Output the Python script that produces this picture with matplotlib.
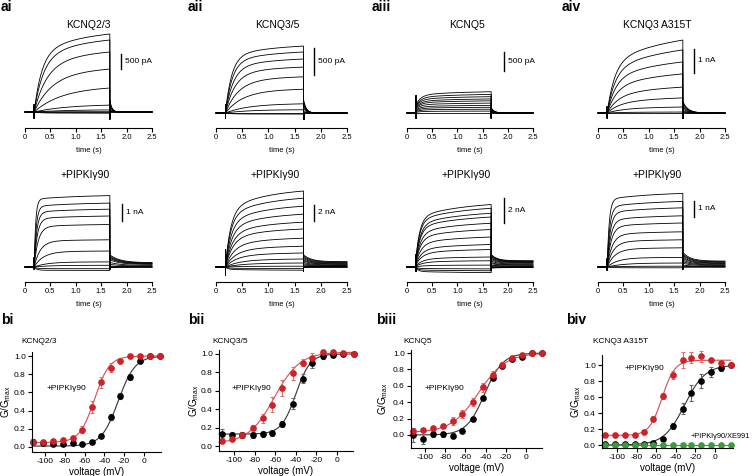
import numpy as np
import matplotlib
matplotlib.use('Agg')
import matplotlib.pyplot as plt
from matplotlib.lines import Line2D

plt.rcParams['font.family'] = ['Liberation Sans', 'DejaVu Sans']
plt.rcParams['axes.unicode_minus'] = False

# ---------------- DATA ----------------
# Current traces: end-of-step amplitude (nA) and activation time constant (s) per sweep
ai_ctrl_amp = [2.6, 2.4, 2.0, 1.43, 0.8, 0.23, 0.07, 0.01, -0.02, -0.04]
ai_ctrl_tau = [0.15, 0.18, 0.24, 0.33, 0.5, 0.6, 0.6, 0.3, 0.1, 0.1]
aii_ctrl_amp = [1.24, 1.13, 1.0, 0.85, 0.67, 0.44, 0.17, 0.06, 0.0, -0.02]
aii_ctrl_tau = [0.12, 0.13, 0.15, 0.18, 0.24, 0.32, 0.42, 0.4, 0.2, 0.1]
aiii_ctrl_amp = [0.56, 0.49, 0.43, 0.37, 0.32, 0.26, 0.20, 0.15, 0.10, 0.05, 0.0]
aiii_ctrl_tau = [0.1, 0.1, 0.1, 0.1, 0.1, 0.1, 0.1, 0.1, 0.1, 0.1, 0.1]
aiv_ctrl_amp = [3.04, 2.63, 2.13, 1.63, 1.08, 0.63, 0.25, 0.04, 0.0]
aiv_ctrl_tau = [0.15, 0.16, 0.17, 0.19, 0.22, 0.25, 0.3, 0.3, 0.3]

ai_pip_amp = [4.2, 3.76, 3.4, 3.0, 2.5, 1.6, 0.94, 0.3, 0.1, -0.1, -0.2]
ai_pip_tau = [0.03, 0.04, 0.05, 0.06, 0.08, 0.12, 0.18, 0.25, 0.3, 0.05, 0.05]
aii_pip_amp = [9.5, 8.6, 7.6, 6.6, 5.6, 4.75, 3.6, 2.6, 1.75, 1.0, 0.5, 0.1, -0.2, -0.4]
aii_pip_tau = [0.1, 0.1, 0.11, 0.12, 0.13, 0.14, 0.16, 0.18, 0.2, 0.25, 0.3, 0.3, 0.05, 0.05]
aiii_pip_amp = [5.0, 4.7, 4.3, 4.0, 3.5, 3.0, 2.4, 1.8, 1.4, 0.8, 0.5, 0.15, -0.15, -0.3, -0.45]
aiii_pip_tau = [0.08, 0.08, 0.09, 0.09, 0.1, 0.1, 0.11, 0.12, 0.13, 0.14, 0.15, 0.15, 0.05, 0.05, 0.05]
aiv_pip_amp = [4.6, 4.1, 3.7, 3.2, 2.75, 2.2, 1.7, 1.2, 0.6, 0.25, 0.05, -0.05]
aiv_pip_tau = [0.04, 0.05, 0.06, 0.07, 0.08, 0.1, 0.12, 0.15, 0.2, 0.3, 0.3, 0.1]

# kinetics per panel: [instant frac, slow frac, slow tau, tail frac, tail hold frac, tail tau]
ai_ctrl_kin = [0.0, 0.25, 1.0, 0.15, 0.0, 0.04]
aii_ctrl_kin = [0.0, 0.15, 1.0, 0.2, 0.0, 0.05]
aiii_ctrl_kin = [0.4, 0.15, 1.0, 0.25, 0.0, 0.06]
aiv_ctrl_kin = [0.0, 0.3, 1.5, 0.16, 0.0, 0.1]
ai_pip_kin = [0.0, 0.05, 1.0, 0.17, 0.06, 0.2]
aii_pip_kin = [0.0, 0.25, 0.8, 0.16, 0.07, 0.15]
aiii_pip_kin = [0.15, 0.2, 1.0, 0.2, 0.1, 0.12]
aiv_pip_kin = [0.0, 0.08, 1.0, 0.2, 0.08, 0.15]

step_times = [0.18, 1.67, 2.5]   # step on, step off, sweep end (s)

# G-V data
voltage = [-112, -102, -92, -82, -72, -63, -53, -43, -33, -24, -14, -4, 6, 16]

bi_ctrl = [0.06, 0.04, 0.03, 0.03, 0.04, 0.03, 0.05, 0.12, 0.33, 0.56, 0.77, 0.94, 1.0, 1.0]
bi_ctrl_err = [0.03, 0.02, 0.01, 0.01, 0.01, 0.01, 0.01, 0.02, 0.03, 0.03, 0.03, 0.02, 0.01, 0.0]
bi_pip = [0.05, 0.05, 0.07, 0.075, 0.10, 0.19, 0.44, 0.71, 0.87, 0.95, 1.0, 1.0, 1.0, 1.0]
bi_pip_err = [0.02, 0.02, 0.02, 0.02, 0.02, 0.04, 0.07, 0.06, 0.05, 0.03, 0.02, 0.01, 0.01, 0.0]

bii_ctrl = [0.135, 0.12, 0.12, 0.12, 0.13, 0.14, 0.24, 0.46, 0.73, 0.90, 0.98, 0.99, 1.0, 1.0]
bii_ctrl_err = [0.05, 0.03, 0.03, 0.03, 0.03, 0.03, 0.03, 0.06, 0.05, 0.05, 0.04, 0.02, 0.01, 0.0]
bii_pip = [0.05, 0.08, 0.12, 0.20, 0.30, 0.45, 0.63, 0.79, 0.905, 0.96, 1.02, 1.02, 1.01, 1.0]
bii_pip_err = [0.01, 0.01, 0.03, 0.03, 0.05, 0.08, 0.09, 0.07, 0.04, 0.05, 0.02, 0.02, 0.01, 0.0]

biii_ctrl = [0.0, -0.05, 0.01, 0.01, -0.01, 0.05, 0.19, 0.45, 0.69, 0.845, 0.93, 0.95, 1.0, 1.0]
biii_ctrl_err = [0.08, 0.06, 0.04, 0.03, 0.03, 0.03, 0.02, 0.02, 0.02, 0.02, 0.02, 0.02, 0.01, 0.0]
biii_pip = [0.05, 0.065, 0.09, 0.115, 0.17, 0.26, 0.40, 0.58, 0.735, 0.857, 0.94, 0.97, 1.0, 1.0]
biii_pip_err = [0.01, 0.01, 0.02, 0.02, 0.05, 0.05, 0.05, 0.05, 0.04, 0.03, 0.02, 0.01, 0.01, 0.0]

biv_ctrl = [0.01, 0.01, 0.01, 0.01, 0.01, 0.02, 0.07, 0.24, 0.455, 0.645, 0.80, 0.91, 0.96, 1.0]
biv_ctrl_err = [0.01, 0.01, 0.01, 0.01, 0.01, 0.01, 0.02, 0.04, 0.07, 0.10, 0.09, 0.06, 0.04, 0.0]
biv_pip = [0.12, 0.12, 0.12, 0.12, 0.165, 0.33, 0.61, 0.87, 1.06, 1.09, 1.11, 1.065, 1.02, 1.0]
biv_pip_err = [0.02, 0.02, 0.02, 0.02, 0.02, 0.03, 0.04, 0.05, 0.10, 0.07, 0.07, 0.02, 0.03, 0.0]
biv_xe = [0.005, 0.005, 0.005, 0.005, 0.005, 0.005, 0.005, 0.005, 0.005, 0.005, 0.005, 0.005, 0.005, 0.0]
biv_xe_err = [0.01, 0.01, 0.01, 0.01, 0.01, 0.01, 0.01, 0.01, 0.01, 0.01, 0.01, 0.01, 0.01, 0.0]

# Boltzmann fit parameters: [bottom, top, V1/2, slope k]
bi_ctrl_fit = [0.01, 1.0, -26, 8.5]
bi_pip_fit = [0.05, 1.0, -50, 7.5]
bii_ctrl_fit = [0.13, 1.0, -40, 7]
bii_pip_fit = [0.03, 1.02, -61, 12.5]
biii_ctrl_fit = [0.0, 1.0, -41, 9]
biii_pip_fit = [0.03, 1.0, -47, 13.5]
biv_ctrl_fit = [0.0, 1.0, -31, 10.5]
biv_pip_fit = [0.12, 1.06, -54, 6.5]
biv_xe_fit = [0.005, 0.005, -50, 10]

time_ticks = [0, 0.5, 1.0, 1.5, 2.0, 2.5]
time_ticklabels = ['0', '0.5', '1.0', '1.5', '2.0', '2.5']
v_ticks = [-100, -80, -60, -40, -20, 0]
g_ticks = [0.0, 0.2, 0.4, 0.6, 0.8, 1.0]

# ---------------- FIGURE ----------------
W, H = 752, 476
fig = plt.figure(figsize=(W / 100, H / 100), dpi=100)


def fx(x):
    return x / W


def fy(y):
    return 1 - y / H


def px_axes(l, t, r, b):
    return fig.add_axes([fx(l), fy(b), (r - l) / W, (b - t) / H])


def ftext(x, y, s, **kw):
    fig.text(fx(x), fy(y), s, **kw)


RED = '#cc2229'
RED_LINE = '#e0484d'
RED_ERR = '#e07070'
BLK_ERR = '#666666'
GREEN = '#3d9a3d'


def make_trace(A, tau, kin, spk):
    inst, slow, tau_slow, tail_f, tail_hold, tail_tau = kin
    t_on, t_off, t_end = step_times
    D = t_off - t_on
    t1 = np.linspace(0, t_on, 20)
    t2 = np.linspace(t_on, t_off, 500)
    t3 = np.linspace(t_off, t_end, 300)
    dt = t2 - t_on
    fast = 1 - inst - slow
    g = (inst + fast * (1 - np.exp(-dt / tau)) / (1 - np.exp(-D / tau))
         + slow * (1 - np.exp(-dt / tau_slow)) / (1 - np.exp(-D / tau_slow)))
    i2 = A * g
    i3 = A * (tail_hold + (tail_f - tail_hold) * np.exp(-(t3 - t_off) / tail_tau))
    up, dn, dn_off = spk
    t = np.concatenate([t1, [t_on, t_on], t2, [t_off], t3])
    i = np.concatenate([np.zeros_like(t1), [up, -dn], i2, [-dn_off], i3])
    return t, i


trace_panels = [
    dict(px0=25, px25=152, axis_y=128, base_y=112, top_y=30, ppn=30, amps=ai_ctrl_amp, taus=ai_ctrl_tau,
         kin=ai_ctrl_kin, spk=(7, 6, 7), sb=0.5, sb_lab='500 pA', sb_x=121, sb_c=61.5,
         title='KCNQ2/3', tx=88, ty=28, tl='ai', tlx=1, tly=11),
    dict(px0=216, px25=347, axis_y=128, base_y=113, top_y=30, ppn=54, amps=aii_ctrl_amp, taus=aii_ctrl_tau,
         kin=aii_ctrl_kin, spk=(8, 5, 6), sb=0.5, sb_lab='500 pA', sb_x=314, sb_c=61.5,
         title='KCNQ3/5', tx=277, ty=28, tl='aii', tlx=188, tly=11),
    dict(px0=407, px25=533, axis_y=128, base_y=113, top_y=30, ppn=38, amps=aiii_ctrl_amp, taus=aiii_ctrl_tau,
         kin=aiii_ctrl_kin, spk=(17, 5, 5), sb=0.5, sb_lab='500 pA', sb_x=504, sb_c=61.5,
         title='KCNQ5', tx=467, ty=28, tl='aiii', tlx=372, tly=11),
    dict(px0=598, px25=725, axis_y=128, base_y=113, top_y=30, ppn=24, amps=aiv_ctrl_amp, taus=aiv_ctrl_tau,
         kin=aiv_ctrl_kin, spk=(6, 5, 5), sb=1, sb_lab='1 nA', sb_x=694, sb_c=61,
         title='KCNQ3 A315T', tx=657, ty=28, tl='aiv', tlx=562, tly=11),
    dict(px0=25, px25=152, axis_y=282, base_y=267, top_y=185, ppn=17, amps=ai_pip_amp, taus=ai_pip_tau,
         kin=ai_pip_kin, spk=(9, 2, 2), sb=1, sb_lab='1 nA', sb_x=122, sb_c=212,
         title='+PIPKI\u03b390', tx=85, ty=178),
    dict(px0=216, px25=347, axis_y=282, base_y=267, top_y=185, ppn=8, amps=aii_pip_amp, taus=aii_pip_tau,
         kin=aii_pip_kin, spk=(17, 8, 4), sb=2, sb_lab='2 nA', sb_x=314, sb_c=213,
         title='+PIPKI\u03b390', tx=275, ty=178),
    dict(px0=407, px25=533, axis_y=282, base_y=267, top_y=185, ppn=12.5, amps=aiii_pip_amp, taus=aiii_pip_tau,
         kin=aiii_pip_kin, spk=(12, 4, 3), sb=2, sb_lab='2 nA', sb_x=504, sb_c=210.5,
         title='+PIPKI\u03b390', tx=466, ty=178),
    dict(px0=598, px25=725, axis_y=282, base_y=267, top_y=185, ppn=16, amps=aiv_pip_amp, taus=aiv_pip_tau,
         kin=aiv_pip_kin, spk=(8, 3, 2), sb=1, sb_lab='1 nA', sb_x=694, sb_c=209,
         title='+PIPKI\u03b390', tx=657, ty=178),
]

for p in trace_panels:
    ax = px_axes(p['px0'], p['top_y'], p['px25'], p['axis_y'])
    ppn = p['ppn']
    ax.set_xlim(0, 2.5)
    ax.set_ylim(-(p['axis_y'] - p['base_y']) / ppn, (p['base_y'] - p['top_y']) / ppn)
    ax.patch.set_alpha(0)
    for s in ['top', 'right', 'left']:
        ax.spines[s].set_visible(False)
    ax.spines['bottom'].set_linewidth(0.8)
    ax.set_yticks([])
    ax.set_xticks(time_ticks)
    ax.set_xticklabels(time_ticklabels)
    ax.tick_params(axis='x', direction='out', length=3, width=0.8, labelsize=5.5, pad=1.5)
    spk = tuple(v / ppn for v in p['spk'])
    for A, tau in zip(p['amps'], p['taus']):
        t, i = make_trace(A, tau, p['kin'], spk)
        ax.plot(t, i, color='black', lw=0.6, clip_on=False)
    # scale bar
    half = p['sb'] * ppn / 2
    fig.add_artist(Line2D([fx(p['sb_x']), fx(p['sb_x'])], [fy(p['sb_c'] - half), fy(p['sb_c'] + half)],
                          color='black', lw=1.0, transform=fig.transFigure))
    ftext(p['sb_x'] + 4, p['sb_c'], p['sb_lab'], fontsize=6, va='center', ha='left')
    ftext(p['tx'], p['ty'], p['title'], fontsize=7.5, ha='center', va='baseline')
    ftext((p['px0'] + p['px25']) / 2, p['axis_y'] + 24, 'time (s)', fontsize=5.5, ha='center', va='baseline')
    if 'tl' in p:
        ftext(p['tlx'], p['tly'], p['tl'], fontsize=10, fontweight='bold', ha='left', va='baseline')


def boltz(v, prm):
    b, t, vh, k = prm
    return b + (t - b) / (1 + np.exp((vh - v) / k))


gv_panels = [
    dict(rect=(32, 352, 161, 452), xlim=(-113.1, 17.2), ylim=(-0.055, 1.044),
         series=[(bi_ctrl, bi_ctrl_err, bi_ctrl_fit, 'black', BLK_ERR, '#333333'),
                 (bi_pip, bi_pip_err, bi_pip_fit, RED, RED_ERR, RED_LINE)],
         lab='bi', labx=1, title='KCNQ2/3', titlex=21,
         ann=[('+PIPKI\u03b390', 47, 390, 6)], ylx=13),
    dict(rect=(219, 350, 353, 451), xlim=(-114.6, 15.5), ylim=(-0.054, 1.043),
         series=[(bii_ctrl, bii_ctrl_err, bii_ctrl_fit, 'black', BLK_ERR, '#333333'),
                 (bii_pip, bii_pip_err, bii_pip_fit, RED, RED_ERR, RED_LINE)],
         lab='bii', labx=188, title='KCNQ3/5', titlex=212,
         ann=[('+PIPKI\u03b390', 232, 390, 6)], ylx=201),
    dict(rect=(411, 350, 542, 448), xlim=(-113.9, 15.8), ylim=(-0.159, 1.037),
         series=[(biii_ctrl, biii_ctrl_err, biii_ctrl_fit, 'black', BLK_ERR, '#333333'),
                 (biii_pip, biii_pip_err, biii_pip_fit, RED, RED_ERR, RED_LINE)],
         lab='biii', labx=376, title='KCNQ5', titlex=403,
         ann=[('+PIPKI\u03b390', 425, 390, 6)], ylx=390),
    dict(rect=(602, 355, 733, 448), xlim=(-115.3, 18.4), ylim=(-0.0375, 1.125),
         series=[(biv_ctrl, biv_ctrl_err, biv_ctrl_fit, 'black', BLK_ERR, '#333333'),
                 (biv_pip, biv_pip_err, biv_pip_fit, RED, RED_ERR, RED_LINE),
                 (biv_xe, biv_xe_err, biv_xe_fit, GREEN, '#70b870', GREEN)],
         lab='biv', labx=566, title='KCNQ3 A315T', titlex=593,
         ann=[('+PIPKI\u03b390', 625, 370, 6), ('+PIPKI\u03b390/XE991', 691, 438, 5.3)], ylx=583),
]

for p in gv_panels:
    l, t, r, b = p['rect']
    ax = px_axes(l, t, r, b)
    ax.set_xlim(*p['xlim'])
    ax.set_ylim(*p['ylim'])
    ax.patch.set_alpha(0)
    for s in ['top', 'right']:
        ax.spines[s].set_visible(False)
    for s in ['left', 'bottom']:
        ax.spines[s].set_linewidth(0.8)
    ax.set_xticks(v_ticks)
    ax.set_yticks(g_ticks)
    ax.set_yticklabels(['%.1f' % v for v in g_ticks])
    ax.tick_params(direction='out', length=3, width=0.8, labelsize=6, pad=1.5)
    vv = np.linspace(p['xlim'][0], voltage[-1], 300)
    for ys, es, fit, col, ecol, lcol in p['series']:
        ax.plot(vv, boltz(vv, fit), color=lcol, lw=0.8, clip_on=False)
        ax.errorbar(voltage, ys, yerr=es, fmt='o', ms=3.8, color=col, mec=col, ecolor=ecol,
                    elinewidth=0.8, capsize=1.6, capthick=0.8, clip_on=False)
    ax.set_xlabel('voltage (mV)', fontsize=7, labelpad=1)
    ax.set_ylabel('G/G$_\\mathregular{max}$', fontsize=7, labelpad=2)
    ax.yaxis.set_label_coords((p['ylx'] - l) / (r - l), 0.5)
    ftext(p['labx'], 324, p['lab'], fontsize=10, fontweight='bold', ha='left', va='baseline')
    ftext(p['titlex'], 343, p['title'], fontsize=6, ha='left', va='baseline')
    for s, x, y, fs in p['ann']:
        ftext(x, y, s, fontsize=fs, ha='left', va='baseline')

fig.savefig('out.png', dpi=100)
